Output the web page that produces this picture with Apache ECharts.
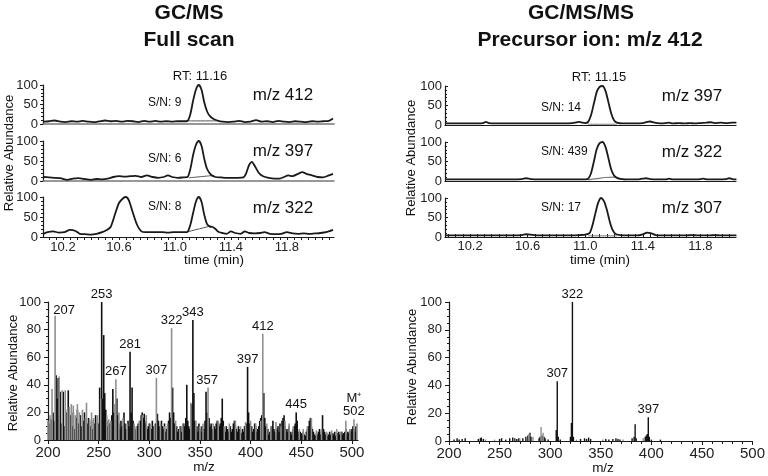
<!DOCTYPE html>
<html><head><meta charset="utf-8">
<script src="https://cdn.jsdelivr.net/npm/echarts@6/dist/echarts.min.js"></script>
<style>html,body{margin:0;padding:0;background:#fff}#c{width:768px;height:476px}</style>
</head><body><div id="c"></div><script>
// ---------- DATA ----------
// Chromatograms (time in min, relative abundance)
const tl412 = [[10.06,6],[10.10,7],[10.14,9],[10.18,6],[10.22,5],[10.26,7],[10.30,6],[10.34,8],[10.38,6],[10.42,5],[10.46,7],[10.50,9],[10.54,7],[10.58,8],[10.62,6],[10.66,8],[10.70,7],[10.74,5],[10.78,8],[10.82,6],[10.86,8],[10.90,6],[10.94,7],[10.98,6],[11.02,7],[11.06,7],[11.09,8],[11.11,25],[11.13,60],[11.15,88],[11.17,100],[11.19,88],[11.21,55],[11.23,32],[11.25,20],[11.28,12],[11.31,8],[11.34,6],[11.38,5],[11.42,6],[11.46,8],[11.50,5],[11.54,6],[11.58,10],[11.62,6],[11.66,7],[11.70,5],[11.74,8],[11.78,6],[11.82,5],[11.86,7],[11.90,6],[11.94,5],[11.98,7],[12.02,6],[12.06,7],[12.10,8],[12.13,14]];
const tl397 = [[10.06,10],[10.10,9],[10.14,8],[10.18,7],[10.23,3],[10.27,6],[10.31,7],[10.35,5],[10.40,3],[10.44,5],[10.48,4],[10.52,6],[10.56,10],[10.60,12],[10.64,11],[10.68,12],[10.72,13],[10.76,10],[10.80,14],[10.84,10],[10.88,8],[10.92,10],[10.95,14],[10.98,10],[11.02,8],[11.06,9],[11.09,10],[11.11,30],[11.13,65],[11.15,90],[11.17,100],[11.19,88],[11.21,55],[11.23,30],[11.26,15],[11.29,10],[11.33,9],[11.37,8],[11.41,8],[11.45,8],[11.49,9],[11.51,20],[11.53,40],[11.55,48],[11.57,38],[11.60,20],[11.63,12],[11.67,8],[11.71,6],[11.75,6],[11.78,10],[11.81,14],[11.84,12],[11.88,18],[11.91,22],[11.94,18],[11.98,14],[12.02,10],[12.06,9],[12.10,14],[12.13,18]];
const tl322 = [[10.06,8],[10.09,12],[10.13,14],[10.17,11],[10.21,12],[10.25,18],[10.29,15],[10.32,8],[10.36,7],[10.40,6],[10.44,8],[10.48,12],[10.51,17],[10.54,25],[10.57,55],[10.60,85],[10.63,97],[10.65,100],[10.67,92],[10.70,60],[10.73,30],[10.76,14],[10.79,12],[10.83,12],[10.87,12],[10.91,12],[10.95,11],[10.99,12],[11.03,12],[11.07,12],[11.09,13],[11.11,30],[11.13,60],[11.15,88],[11.17,100],[11.19,88],[11.21,55],[11.23,32],[11.25,26],[11.27,25],[11.29,20],[11.31,13],[11.34,10],[11.37,8],[11.40,14],[11.43,10],[11.47,8],[11.50,14],[11.53,10],[11.57,9],[11.61,10],[11.64,12],[11.68,8],[11.72,7],[11.76,8],[11.80,12],[11.84,9],[11.88,8],[11.92,9],[11.96,8],[12.00,9],[12.04,10],[12.08,12],[12.13,18]];
const tlBase412 = [[11.10,8],[11.30,8]];
const tlBase397 = [[11.10,8],[11.28,14]];
const tlBase322 = [[11.09,13],[11.26,28]];

const tr397 = [[10.03,4],[10.08,4],[10.14,4],[10.20,4],[10.26,4],[10.29,5],[10.31,8],[10.33,5],[10.38,4],[10.44,4],[10.50,4],[10.56,4],[10.62,4],[10.68,4],[10.74,4],[10.80,4],[10.86,4],[10.91,5],[10.94,7],[10.96,8],[10.98,6],[11.00,5],[11.02,8],[11.04,25],[11.06,55],[11.08,85],[11.10,98],[11.12,100],[11.14,88],[11.16,60],[11.18,30],[11.20,12],[11.22,6],[11.26,4],[11.30,4],[11.35,4],[11.40,5],[11.43,8],[11.45,9],[11.48,6],[11.52,4],[11.56,5],[11.58,6],[11.61,4],[11.65,5],[11.69,4],[11.73,5],[11.76,4],[11.80,5],[11.84,6],[11.87,7],[11.90,5],[11.94,6],[11.98,5],[12.02,6],[12.05,6]];
const tr322 = [[10.03,4],[10.10,4],[10.18,4],[10.26,4],[10.34,4],[10.42,4],[10.50,4],[10.56,5],[10.59,7],[10.62,5],[10.68,4],[10.76,4],[10.84,4],[10.92,4],[10.98,4],[11.02,6],[11.04,20],[11.06,50],[11.08,82],[11.10,97],[11.12,100],[11.14,88],[11.16,60],[11.18,30],[11.20,14],[11.22,8],[11.25,5],[11.30,4],[11.36,4],[11.40,6],[11.42,7],[11.45,5],[11.50,4],[11.56,4],[11.58,6],[11.61,4],[11.68,4],[11.78,4],[11.82,6],[11.85,4],[11.92,4],[11.98,5],[12.00,7],[12.02,5],[12.05,4]];
const tr322hump = [[11.02,3],[11.08,6],[11.14,9],[11.20,10],[11.25,6],[11.28,3]];
const tr307 = [[10.03,4],[10.10,4],[10.18,4],[10.26,4],[10.34,4],[10.42,4],[10.50,4],[10.56,5],[10.59,7],[10.62,6],[10.66,4],[10.74,4],[10.82,4],[10.90,4],[10.96,5],[11.00,6],[11.03,10],[11.05,30],[11.07,60],[11.09,88],[11.11,100],[11.13,92],[11.15,70],[11.17,40],[11.19,18],[11.21,8],[11.24,5],[11.30,4],[11.36,4],[11.40,7],[11.43,11],[11.46,9],[11.49,5],[11.56,4],[11.64,4],[11.70,4],[11.74,5],[11.78,4],[11.86,4],[11.90,5],[11.94,4],[12.00,4],[12.05,4]];
const trBase397 = [[11.02,2],[11.22,2]];
const trBase307 = [[11.02,3],[11.22,3]];

const chromTickLabels = [10.2, 10.6, 11.0, 11.4, 11.8];

// Full-scan mass spectrum (m/z, relative abundance)
const blBlack = [[201,12],[203,15],[205,20],[206,14],[208,47],[209,30],[210,45],[211,18],[212,35],[213,12],[215,35],[216,10],[218,20],[219,14],[220,36],[221,12],[222,18],[224,10],[225,20],[226,8],[228,16],[229,22],[230,12],[232,18],[233,10],[235,14],[236,20],[237,8],[239,12],[240,16],[242,10],[243,14],[244,8],[246,12],[247,18],[248,10],[250,12],[251,38],[252,16],[253,100],[254,30],[255,76],[256,34],[257,22],[258,14],[259,10],[261,12],[262,8],[263,18],[264,37],[265,20],[266,14],[268,30],[269,18],[270,12],[271,8],[272,14],[273,10],[275,20],[276,12],[277,8],[279,14],[280,10],[281,64],[282,20],[283,38],[284,14],[285,10],[286,8],[287,6],[288,10],[289,12],[290,8],[291,14],[292,18],[293,20],[294,16],[295,19],[296,12],[297,14],[298,8],[299,10],[300,12],[302,8],[303,14],[304,10],[305,6],[306,12],[308,19],[309,14],[310,10],[311,8],[312,14],[313,10],[314,8],[315,12],[316,6],[317,8],[318,10],[319,14],[320,20],[321,16],[323,38],[324,20],[325,12],[326,8],[327,10],[328,6],[329,8],[330,5],[331,10],[332,6],[333,8],[334,12],[335,10],[336,16],[337,40],[338,14],[339,10],[340,8],[342,26],[343,87],[344,34],[345,14],[346,8],[347,10],[348,6],[349,12],[350,8],[351,6],[352,10],[353,5],[354,8],[355,14],[356,35],[357,20],[359,16],[360,10],[361,12],[362,8],[363,6],[364,10],[365,8],[366,12],[367,14],[368,8],[369,10],[370,12],[371,16],[372,30],[373,14],[374,8],[375,6],[376,10],[377,8],[378,6],[379,8],[380,10],[381,6],[382,8],[383,12],[384,14],[385,10],[386,8],[387,6],[388,10],[389,8],[390,6],[391,5],[392,8],[393,6],[394,10],[395,8],[396,12],[397,53],[398,20],[399,12],[400,8],[401,10],[402,6],[403,8],[404,12],[405,10],[406,6],[407,8],[408,10],[409,14],[410,16],[411,18],[413,34],[414,16],[415,10],[416,6],[417,8],[418,4],[419,6],[420,8],[421,10],[422,14],[423,8],[424,6],[425,4],[426,8],[427,10],[428,6],[429,12],[430,10],[431,14],[432,16],[433,18],[434,10],[435,8],[436,6],[437,8],[438,10],[439,6],[440,4],[441,6],[442,8],[443,10],[444,12],[445,20],[446,14],[447,6],[448,4],[449,6],[450,5],[451,4],[452,6],[453,4],[454,3],[455,6],[456,8],[457,10],[458,14],[459,16],[460,10],[461,8],[462,6],[463,4],[464,3],[465,5],[466,4],[467,6],[468,8],[469,4],[470,6],[471,18],[472,8],[473,6],[474,4],[475,5],[476,3],[477,4],[478,6],[479,4],[480,3],[481,5],[482,4],[483,6],[484,3],[485,4],[486,5],[487,6],[488,4],[489,5],[490,6],[491,4],[492,5],[493,6],[494,8],[495,4],[496,6],[497,5],[498,7],[499,6],[500,8],[501,10],[502,8],[503,6],[504,10]];
const blGray = [[200,14],[202,18],[204,37],[207,90],[211,46],[214,36],[217,36],[219,22],[221,24],[223,26],[225,25],[227,18],[229,26],[231,20],[234,22],[237,16],[238,27],[241,15],[243,20],[245,16],[248,13],[249,18],[252,30],[258,18],[260,15],[262,14],[266,26],[267,44],[270,20],[274,16],[278,12],[285,12],[287,10],[290,14],[293,18],[297,18],[301,12],[305,10],[307,45],[311,12],[315,10],[318,12],[322,81],[326,14],[330,10],[333,12],[341,27],[346,14],[350,10],[353,12],[358,38],[363,12],[368,14],[374,10],[379,12],[385,14],[390,10],[395,13],[400,14],[405,12],[410,14],[412,77],[416,12],[420,10],[425,13],[430,10],[434,14],[438,12],[442,10],[448,8],[452,8],[456,10],[460,16],[465,7],[470,8],[475,6],[480,7],[485,8],[489,6],[494,14],[498,8],[502,15],[505,12]];
const blLabelMz  = [207, 253, 267, 281, 307, 322, 343, 357, 397, 412, 445, 502];
const blLabelVal = [90, 100, 44, 64, 45, 81, 87, 38, 53, 77, 20, 15];

// Product ion spectrum (precursor m/z 412)
const brBlack = [[205,1],[208,2],[210,1],[213,1.5],[216,2],[229,1.5],[231,2],[232,2.5],[234,1.5],[250,1.5],[252,2],[256,1],[260,2],[263,2.5],[265,2],[267,1.5],[269,2],[273,2],[276,3],[278,4],[280,6],[281,3],[289,2],[290,3],[292,4],[294,3],[295,2],[298,1],[306,8],[307,43],[308,3],[310,1],[320,3],[321,13],[322,100],[323,3],[330,1.5],[334,2],[336,1.5],[338,2.5],[340,1.5],[355,1.5],[358,1],[362,1.5],[365,2],[367,1.5],[369,1],[381,2],[383,3],[384,12],[385,2],[394,3],[395,4],[396,5],[397,17],[398,3],[400,1],[409,1]];
const brGray = [[236,1],[245,1],[264,2],[270,2],[279,5],[283,3],[291,10],[293,6],[326,1],[352,1],[372,1],[392,2]];
const brLabelMz  = [307, 322, 397];
const brLabelVal = [43, 100, 17];

// ---------- CHART ----------
const F = "'Liberation Sans', Arial, sans-serif";
const INK = '#1a1a1a';
const chart = echarts.init(document.getElementById('c'));

const grids = [
  {left:43, top:85, width:291, height:39},
  {left:43, top:141, width:291, height:40},
  {left:43, top:197, width:291, height:40},
  {left:445, top:86, width:291, height:39},
  {left:445, top:142, width:291, height:39},
  {left:445, top:198, width:291, height:39},
  {left:48, top:302, width:310, height:138},
  {left:449, top:302, width:308, height:139}
];

function chromTicks(a, b) { const out = []; for (let v = a; v <= b + 1e-9; v += 0.05) out.push(+v.toFixed(2)); return out; }

const xAxes = [], yAxes = [];
for (let i = 0; i < 6; i++) {
  const left = i < 3;
  const bottom = (i === 2 || i === 5);
  xAxes.push({
    type:'value', gridIndex:i,
    min: left ? 10.057 : 10.026, max: left ? 12.137 : 12.047,
    splitLine:{show:false},
    axisLine:{lineStyle:{color: (i===0||i===1) ? '#777' : INK, width: (i===0||i===1)?1.6:1.2}},
    axisTick:{show:bottom, customValues: chromTicks(10.05, 12.1), length:3, inside: !left, lineStyle:{color:INK}},
    axisLabel:{show:bottom, customValues: chromTickLabels, formatter: v => v.toFixed(1), fontFamily:F, fontSize:13, color:'#222', margin: left ? 4 : 3}
  });
  yAxes.push({
    type:'value', gridIndex:i, min:0, max:100, interval:50,
    splitLine:{show:false},
    axisLine:{show:true, lineStyle:{color:INK, width:1.2}},
    axisTick:{show:true, length:3, inside: !left, lineStyle:{color:INK}},
    minorTick:{show:true, splitNumber:5, length:2, lineStyle:{color:INK}},
    axisLabel:{fontFamily:F, fontSize:13, color:'#222', margin: left ? 5 : 3}
  });
}
// spectra axes
xAxes.push({type:'value', gridIndex:6, min:200, max:506, interval:50, splitLine:{show:false},
  axisLine:{lineStyle:{color:INK, width:1.2}}, axisTick:{length:4, lineStyle:{color:INK}},
  axisLabel:{fontFamily:F, fontSize:15, color:'#222', margin:5, showMaxLabel:false}});
xAxes.push({type:'value', gridIndex:7, min:200, max:500, interval:50, splitLine:{show:false},
  axisLine:{lineStyle:{color:INK, width:1.2}}, axisTick:{length:4, lineStyle:{color:INK}},
  minorTick:{show:true, splitNumber:5, length:3, lineStyle:{color:INK}},
  axisLabel:{fontFamily:F, fontSize:15, color:'#222', margin:5}});
for (const gi of [6,7]) {
  yAxes.push({type:'value', gridIndex:gi, min:0, max:100, interval:20, splitLine:{show:false},
    axisLine:{show:true, lineStyle:{color:INK, width:1.2}}, axisTick:{show:true, length:4, lineStyle:{color:INK}},
    minorTick:{show:true, splitNumber:4, length:2, lineStyle:{color:INK}},
    axisLabel:{fontFamily:F, fontSize:13, color:'#222', margin:7}});
}

function trace(data, idx, color, width) {
  return {type:'line', xAxisIndex:idx, yAxisIndex:idx, data, showSymbol:false, smooth:0.25, silent:true,
    lineStyle:{color: color || INK, width: width || 1.8}, z: width ? 1 : 3};
}
function sticks(data, idx, color, w) {
  return {type:'bar', xAxisIndex:idx, yAxisIndex:idx, data, barWidth:w, barGap:'-100%', silent:true,
    itemStyle:{color}, animation:false};
}
function peakLabels(mzs, vals, idx, texts) {
  return {type:'scatter', xAxisIndex:idx, yAxisIndex:idx, symbolSize:0, silent:true, z:10,
    itemStyle:{color:'#111'},
    data: mzs.map((m, k) => ({name: texts ? texts[k] : String(m), value:[m, vals[k]],
      label: m === 207 ? {offset:[9, 2]} : undefined})),
    label:{show:true, position:'top', distance:1, formatter: p => p.name, fontFamily:F, fontSize:13,
      color:'#111', opacity:1, textBorderWidth:0, lineHeight:13}};
}

const blTexts = blLabelMz.map(m => m === 502 ? 'M\u207A\n502' : String(m));

const series = [
  trace(tl412, 0), trace(tlBase412, 0, '#555', 1),
  trace(tl397, 1), trace(tlBase397, 1, '#555', 1),
  trace(tl322, 2), trace(tlBase322, 2, '#555', 1),
  trace(tr397, 3), trace(trBase397, 3, '#777', 1),
  trace(tr322, 4), trace(tr322hump, 4, '#777', 1.2),
  trace(tr307, 5), trace(trBase307, 5, '#777', 1),
  sticks(blBlack, 6, '#111', 1.6), sticks(blGray, 6, '#8f8f8f', 1.6),
  peakLabels(blLabelMz, blLabelVal, 6, blTexts),
  sticks(brBlack, 7, '#111', 1.4), sticks(brGray, 7, '#8f8f8f', 1.4),
  peakLabels(brLabelMz, brLabelVal, 7)
];

function txt(text, x, y, size, opts) {
  opts = opts || {};
  return {type:'text', x, y, rotation: opts.rot || 0, silent:true, z:100,
    style:{text, fontFamily:F, fontSize:size, fontWeight: opts.bold ? 'bold' : 'normal', fill:'#111',
      align: opts.align || 'center', verticalAlign:'middle'}};
}

const graphic = [
  txt('GC/MS', 189, 13, 21, {bold:true}),
  txt('Full scan', 189, 40, 21, {bold:true}),
  txt('GC/MS/MS', 581, 13, 21, {bold:true}),
  txt('Precursor ion: m/z 412', 590, 40, 21, {bold:true}),
  txt('Relative Abundance', 9, 153, 13, {rot:Math.PI/2}),
  txt('Relative Abundance', 411, 158, 13, {rot:Math.PI/2}),
  txt('Relative Abundance', 13, 373, 13, {rot:Math.PI/2}),
  txt('Relative Abundance', 412, 367, 13, {rot:Math.PI/2}),
  txt('time (min)', 214, 260, 13.5),
  txt('time (min)', 600, 260, 13.5),
  txt('m/z', 204, 467, 13.5),
  txt('m/z', 603, 468, 13.5),
  txt('RT: 11.16', 200, 76, 13),
  txt('RT: 11.15', 599, 77, 13),
  txt('m/z 412', 283, 95, 17),
  txt('m/z 397', 283, 151, 17),
  txt('m/z 322', 283, 208, 17),
  txt('m/z 397', 692, 96, 17),
  txt('m/z 322', 692, 152, 17),
  txt('m/z 307', 692, 208, 17),
  txt('S/N: 9', 148, 103, 12, {align:'left'}),
  txt('S/N: 6', 148, 159, 12, {align:'left'}),
  txt('S/N: 8', 148, 207, 12, {align:'left'}),
  txt('S/N: 14', 541, 108, 12, {align:'left'}),
  txt('S/N: 439', 541, 152, 12, {align:'left'}),
  txt('S/N: 17', 541, 208, 12, {align:'left'})
];

chart.setOption({
  animation:false,
  backgroundColor:'#fff',
  grid: grids,
  xAxis: xAxes,
  yAxis: yAxes,
  series,
  graphic
});
</script></body></html>
